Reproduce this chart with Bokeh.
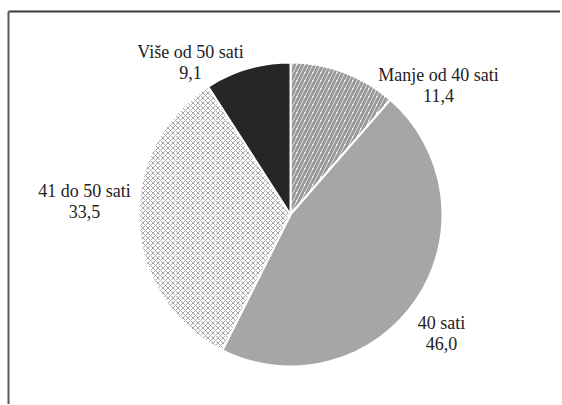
import numpy as np
from bokeh.plotting import figure
from bokeh.models import Range1d, ColumnDataSource
from bokeh.core.properties import value
from bokeh.embed import file_html
from bokeh.resources import INLINE

categories = ["Manje od 40 sati", "40 sati", "41 do 50 sati", "Više od 50 sati"]
shares = [11.4, 46.0, 33.5, 9.1]
share_labels = ["11,4", "46,0", "33,5", "9,1"]

W, H = 560, 404
p = figure(width=W, height=H, output_backend="svg", toolbar_location=None,
           x_range=Range1d(0, W), y_range=Range1d(0, H), min_border=0,
           outline_line_color=None)
p.axis.visible = False
p.grid.visible = False
p.background_fill_color = "white"
p.border_fill_color = "white"

def Y(py):
    return H - py

# frame (top and left)
p.line([8, W], [Y(11), Y(11)], line_color="#3a3a3a", line_width=2)
p.line([8, 8], [0, Y(11)], line_color="#5a5a5a", line_width=2)

cx, cy, r = 290, Y(214), 152
cum = np.concatenate([[0], np.cumsum(shares)])
starts = np.pi / 2 - 2 * np.pi * cum[:-1] / 100
ends = np.pi / 2 - 2 * np.pi * cum[1:] / 100

styles = [
    dict(fill_color="white", hatch_pattern="/", hatch_color="#9a9a9a", hatch_weight=3, hatch_scale=8),
    dict(fill_color="#a6a6a6"),
    dict(fill_color="white", hatch_pattern="x", hatch_color="#a8a8a8", hatch_weight=1, hatch_scale=5),
    dict(fill_color="#262626"),
]
for i in range(len(shares)):
    p.wedge(x=cx, y=cy, radius=r, start_angle=starts[i], end_angle=ends[i],
            direction="clock", line_color="white", line_width=2, **styles[i])

# label anchors (page px): center x, first-line baseline
label_pos = [(438, 74), (441, 322), (84, 190), (190, 51)]
line_gap = 21
src1 = ColumnDataSource(dict(x=[q[0] for q in label_pos], y=[Y(q[1]) for q in label_pos], t=categories))
src2 = ColumnDataSource(dict(x=[q[0] for q in label_pos], y=[Y(q[1] + line_gap) for q in label_pos], t=share_labels))
for s in (src1, src2):
    p.text(x="x", y="y", text="t", source=s, text_font=value("serif"),
           text_font_size="18px", text_color="#222222", text_align="center",
           text_baseline="alphabetic", text_font_style="normal")

open("out.html", "w").write(file_html(p, INLINE))
